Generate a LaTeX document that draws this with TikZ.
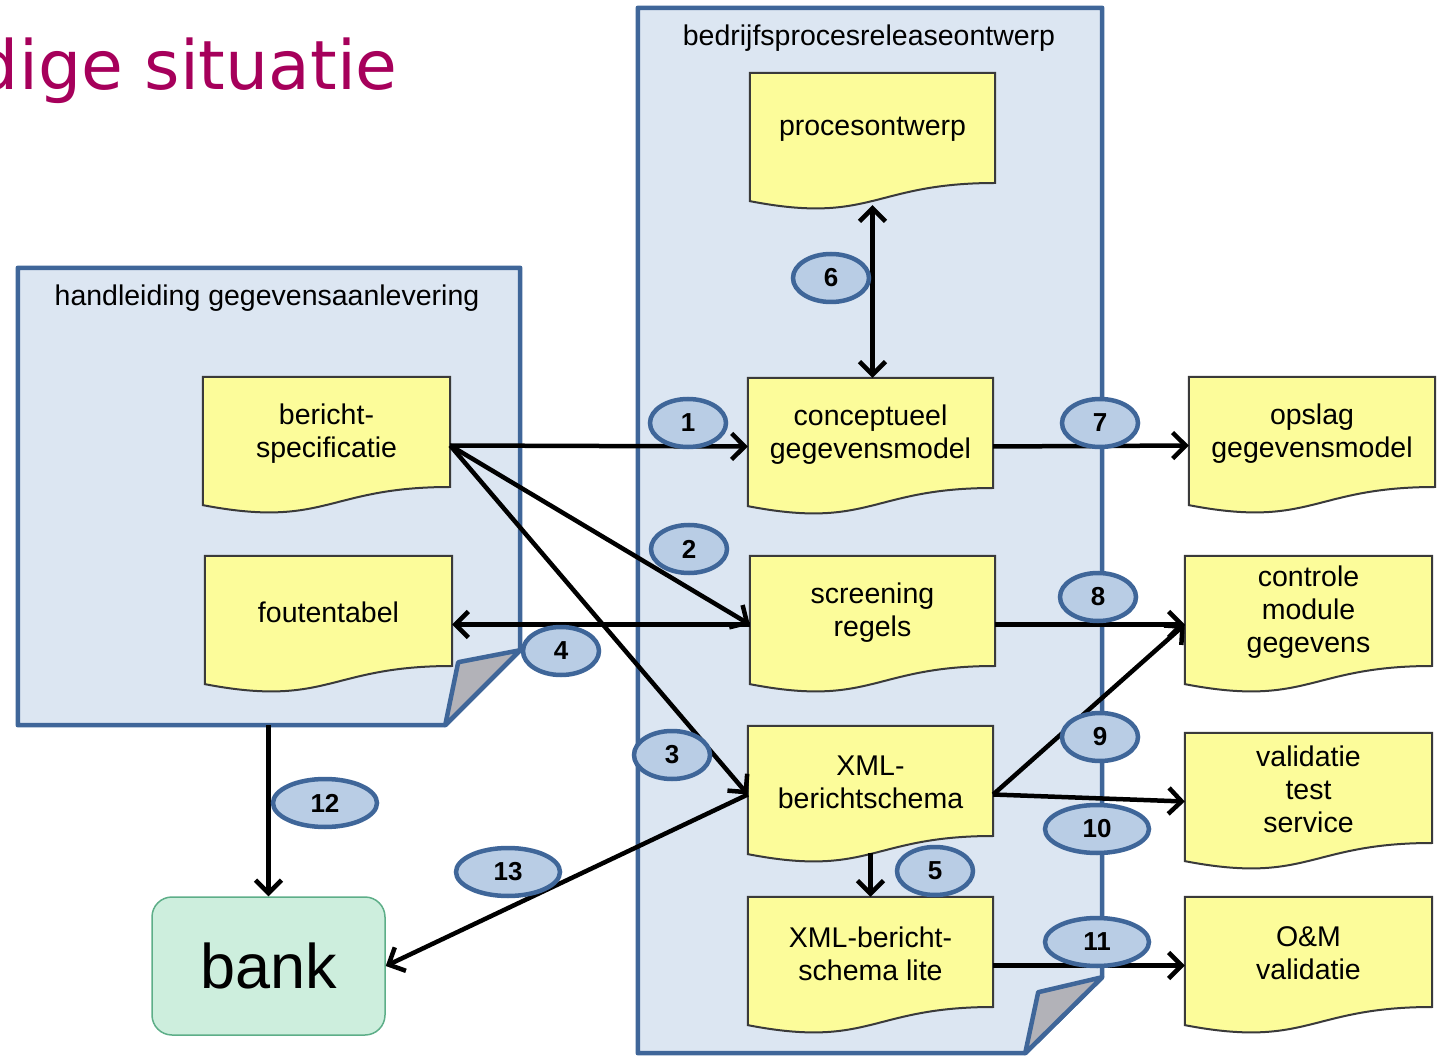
\documentclass[tikz,border=0pt]{standalone}
\usepackage{fontspec}
\setmainfont{Liberation Sans}
\newfontfamily\titlefont{DejaVu Sans}
\usetikzlibrary{arrows.meta,calc,shapes.geometric}
\pgfdeclarelayer{bg}
\pgfdeclarelayer{docbg}
\pgfsetlayers{bg,docbg,main}

\definecolor{contfill}{HTML}{DCE6F2}
\definecolor{contline}{HTML}{3F6699}
\definecolor{docfill}{HTML}{FCFC9A}
\definecolor{docline}{HTML}{3A3A3A}
\definecolor{badgefill}{HTML}{B9CDE5}
\definecolor{foldfill}{HTML}{B2B2B8}
\definecolor{bankfill}{HTML}{CDEEDD}
\definecolor{bankline}{HTML}{5DAE88}
\definecolor{titlecol}{HTML}{A6005B}

\begin{document}
\begin{tikzpicture}[x=1pt,y=-1pt,
  docbox/.style={minimum width=246pt, minimum height=137pt, inner sep=0pt, draw=none},
  doctext/.style={align=center, font=\fontsize{28.5}{33}\selectfont, inner sep=0pt},
  contbox/.style={draw=none, inner sep=0pt},
  conttitle/.style={font=\fontsize{28.5}{33}\selectfont, inner sep=0pt},
  contshape/.style={draw=contline, fill=contfill, line width=4.5pt, line join=round},
  foldshape/.style={draw=contline, fill=foldfill, line width=4.5pt, line join=round},
  docshape/.style={draw=docline, fill=docfill, line width=2pt},
  conn/.style={line width=4.5pt, -{Straight Barb[length=13pt,width=26pt]}},
  dconn/.style={line width=4.5pt, {Straight Barb[length=13pt,width=26pt]}-{Straight Barb[length=13pt,width=26pt]}},
  badge/.style={ellipse, draw=contline, fill=badgefill, line width=4.5pt, minimum width=76pt, minimum height=48pt, inner sep=0pt, font=\bfseries\fontsize{26}{26}\selectfont},
  wbadge/.style={badge, minimum width=104pt}]

\useasboundingbox (0,0) rectangle (1441,1056);

% title
\node[anchor=base east, font=\titlefont\fontsize{68}{68}\selectfont, text=titlecol, inner sep=0pt] (title) at (398,90) {dige situatie};

% containers
\node[contbox, minimum width=502pt, minimum height=457pt] (hand) at (269,496.5) {};
\node[contbox, minimum width=464pt, minimum height=1045pt] (bpr) at (870,530.5) {};
\begin{pgfonlayer}{bg}
  \draw[contshape] (hand.north west) -- (hand.north east) -- ([yshift=75pt]hand.south east)
     -- ([xshift=-75pt]hand.south east) -- (hand.south west) -- cycle;
  \draw[foldshape] ([yshift=75pt]hand.south east) -- ([xshift=-62pt,yshift=63pt]hand.south east)
     -- ([xshift=-75pt]hand.south east) -- cycle;
  \draw[contshape] (bpr.north west) -- (bpr.north east) -- ([yshift=76pt]bpr.south east)
     -- ([xshift=-77pt]bpr.south east) -- (bpr.south west) -- cycle;
  \draw[foldshape] ([yshift=76pt]bpr.south east) -- ([xshift=-64pt,yshift=61pt]bpr.south east)
     -- ([xshift=-77pt]bpr.south east) -- cycle;
\end{pgfonlayer}
\node[conttitle] (handt) at (267,298) {handleiding gegevensaanlevering};
\node[conttitle] (bprt) at (869,38) {bedrijfsprocesreleaseontwerp};

% documents
\node[docbox, minimum width=245pt] (proc) at (872.5,141.5) {};
\node[docbox, minimum width=245pt] (cgm)  at (870.5,446.5) {};
\node[docbox, minimum width=245pt] (scr)  at (872.5,624.5) {};
\node[docbox, minimum width=245pt] (xml)  at (870.5,794.5) {};
\node[docbox, minimum width=245pt] (lite) at (870.5,965.5) {};
\node[docbox, minimum width=247pt] (bs)   at (326.5,445.5) {};
\node[docbox, minimum width=247pt] (fout) at (328.5,624.5) {};
\node[docbox, minimum width=246pt] (ops)  at (1312,445.5) {};
\node[docbox, minimum width=247pt] (cmg)  at (1308.5,624.5) {};
\node[docbox, minimum width=247pt] (vts)  at (1308.5,801.5) {};
\node[docbox, minimum width=247pt] (om)   at (1308.5,965.5) {};

\begin{pgfonlayer}{docbg}
\foreach \n in {proc,cgm,scr,xml,lite,bs,fout,ops,cmg,vts,om}{
  \draw[docshape] (\n.north west) -- (\n.north east) -- ($(\n.north east)!0.802!(\n.south east)$)
    .. controls ($(\n.north)!0.802!(\n.south)$) and ($(\n.north)!1.107!(\n.south)$) .. ($(\n.north west)!0.934!(\n.south west)$) -- cycle;
}
\end{pgfonlayer}

\node[doctext] (proct) at ([yshift=12pt]proc.center) {procesontwerp};
\node[doctext] (cgmt)  at ([yshift=12pt]cgm.center) {conceptueel\\gegevensmodel};
\node[doctext] (scrt)  at ([yshift=12pt]scr.center) {screening\\regels};
\node[doctext] (xmlt)  at ([yshift=12pt]xml.center) {XML-\\berichtschema};
\node[doctext] (litet) at ([yshift=12pt]lite.center) {XML-bericht-\\schema lite};
\node[doctext] (bst)   at ([yshift=12pt]bs.center) {bericht-\\specificatie};
\node[doctext] (foutt) at ([yshift=12pt]fout.center) {foutentabel};
\node[doctext] (opst)  at ([yshift=12pt]ops.center) {opslag\\gegevensmodel};
\node[doctext] (cmgt)  at ([yshift=12pt]cmg.center) {controle\\module\\gegevens};
\node[doctext] (vtst)  at ([yshift=12pt]vts.center) {validatie\\test\\service};
\node[doctext] (omt)   at ([yshift=12pt]om.center) {O\&M\\validatie};

% bank
\node[draw=bankline, fill=bankfill, rounded corners=20pt, line width=1.5pt, minimum width=233pt,
      minimum height=138pt, inner sep=0pt, font=\fontsize{63}{63}\selectfont] (bank) at (268.5,966) {bank};

% connectors
\draw[dconn] (proc.south |- cgm.north) -- ([yshift=5pt]proc.south);
\draw[conn] (bs.east) -- (cgm.west);
\draw[conn] (bs.east) -- (scr.west);
\draw[conn] (bs.east) -- (xml.west);
\draw[conn] (scr.west) -- (fout.east);
\draw[conn] ([yshift=10pt]xml.south) -- (lite.north);
\draw[conn] (cgm.east) -- (ops.west);
\draw[conn] (scr.east) -- (cmg.west);
\draw[conn] (xml.east) -- (cmg.west);
\draw[conn] (xml.east) -- (vts.west);
\draw[conn] (lite.east) -- (om.west);
\draw[conn] (bank.north |- hand.south) -- (bank.north);
\draw[conn] (xml.west) -- (bank.east);

% badges
\node[badge] (b1) at (688,423) {1};
\node[badge] (b2) at (689,549) {2};
\node[badge] (b3) at (672,755) {3};
\node[badge] (b4) at (561,651) {4};
\node[badge] (b5) at (935,871) {5};
\node[badge] (b6) at (831,278) {6};
\node[badge] (b7) at (1100,423) {7};
\node[badge] (b8) at (1098,597) {8};
\node[badge] (b9) at (1100,737) {9};
\node[wbadge] (b10) at (1097,829) {10};
\node[wbadge] (b11) at (1097,942) {11};
\node[wbadge] (b12) at (325,803) {12};
\node[wbadge] (b13) at (508,872) {13};
\end{tikzpicture}
\end{document}
